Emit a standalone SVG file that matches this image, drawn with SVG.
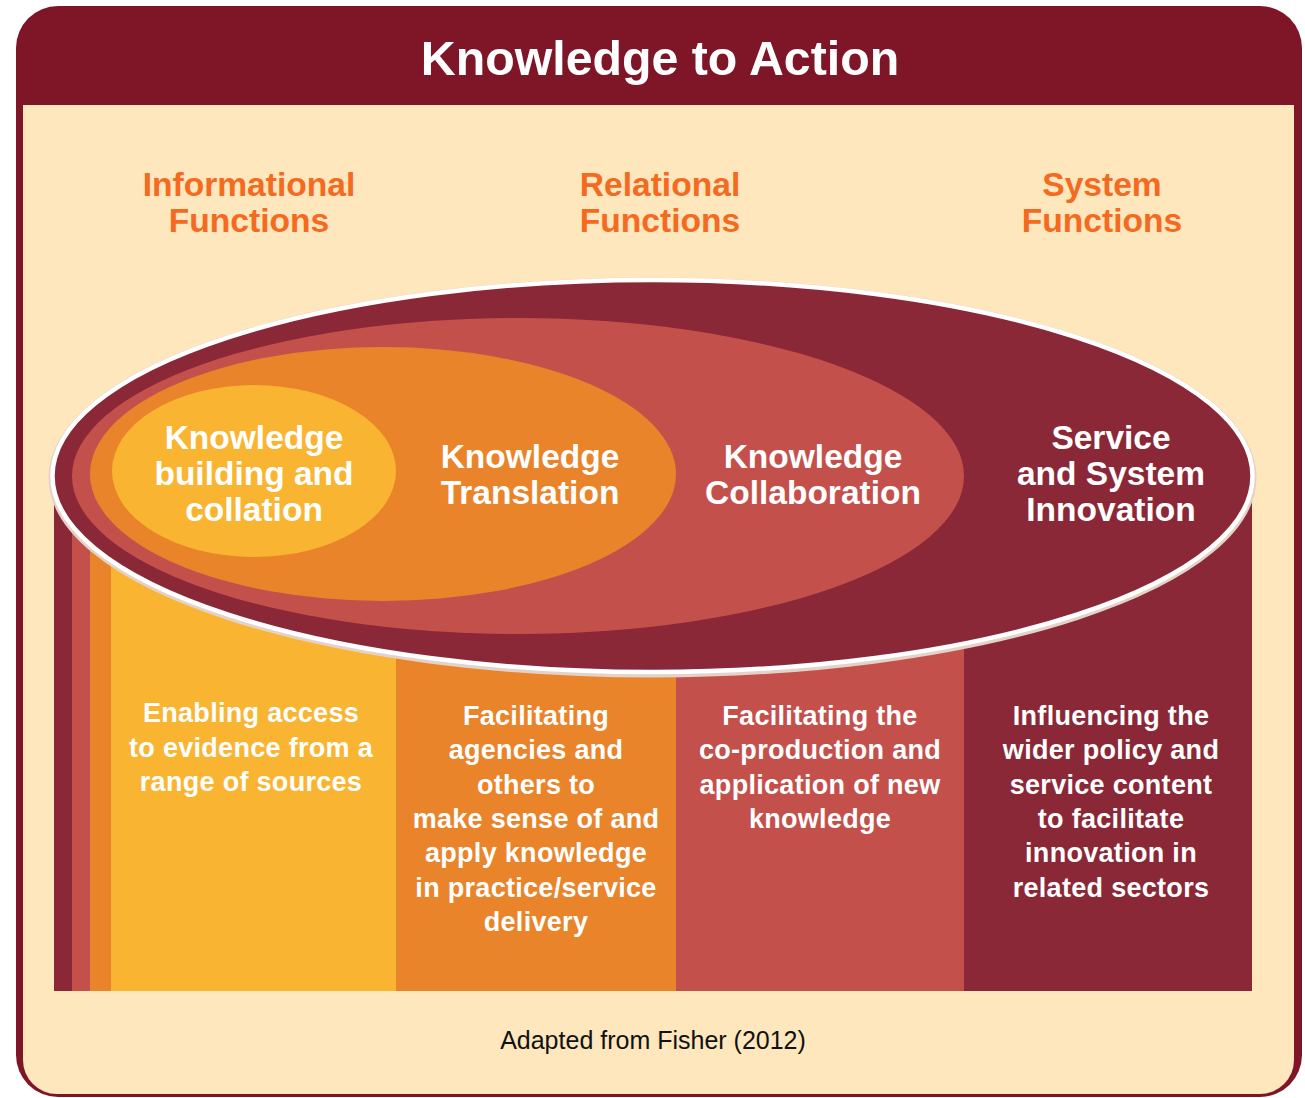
<svg xmlns="http://www.w3.org/2000/svg" width="1305" height="1098" viewBox="0 0 1305 1098">
<style>
.title{font-family:"Liberation Sans",Arial,sans-serif;font-weight:bold;font-size:48.3px;fill:#fff;text-anchor:middle}
.head{font-family:"Liberation Sans",Arial,sans-serif;font-weight:bold;font-size:33.6px;fill:#F46A20;text-anchor:middle}
.el{font-family:"Liberation Sans",Arial,sans-serif;font-weight:bold;font-size:33.5px;fill:#fff;text-anchor:middle}
.col{font-family:"Liberation Sans",Arial,sans-serif;font-weight:bold;font-size:27px;fill:#fff;text-anchor:middle;letter-spacing:0.3px}
.foot{font-family:"Liberation Sans",Arial,sans-serif;font-size:25px;fill:#111;text-anchor:middle}
</style>
<g id="frame">
<rect x="16" y="6" width="1286" height="1091" rx="42" ry="42" fill="#7F1628"/>
<path d="M23 105 H1294 V1060 A34 34 0 0 1 1260 1094 H57 A34 34 0 0 1 23 1060 Z" fill="#FEE6BD"/>
<text class="title" x="660" y="75">Knowledge to Action</text>
</g>
<g id="headings">
<text class="head" x="249" y="196">Informational</text>
<text class="head" x="249" y="232">Functions</text>
<text class="head" x="660" y="196">Relational</text>
<text class="head" x="660" y="232">Functions</text>
<text class="head" x="1102" y="196">System</text>
<text class="head" x="1102" y="232">Functions</text>
</g>
<g id="cylinder">
<rect x="54" y="476" width="1198" height="515" fill="#8B2837"/>
<rect x="72" y="476" width="892" height="515" fill="#C4504C"/>
<rect x="90" y="476" width="586" height="515" fill="#E9842A"/>
<rect x="111" y="476" width="285" height="515" fill="#F9B532"/>
<ellipse cx="652.5" cy="477.5" rx="601" ry="197" fill="none" stroke="#E4D2C8" stroke-width="6"/>
<ellipse cx="652.5" cy="476" rx="600" ry="196" fill="#8B2837" stroke="#FFFFFF" stroke-width="4.5"/>
</g>
<g id="node-service">
<text class="el" x="1111" y="449">Service</text>
<text class="el" x="1111" y="485">and System</text>
<text class="el" x="1111" y="521">Innovation</text>
</g>
<g id="node-collaboration">
<ellipse cx="518" cy="476" rx="446" ry="158" fill="#C4504C"/>
<text class="el" x="813" y="468">Knowledge</text>
<text class="el" x="813" y="504">Collaboration</text>
</g>
<g id="node-translation">
<ellipse cx="383" cy="474" rx="293" ry="127" fill="#E9842A"/>
<text class="el" x="530" y="468">Knowledge</text>
<text class="el" x="530" y="504">Translation</text>
</g>
<g id="node-building">
<ellipse cx="254" cy="471" rx="142" ry="86" fill="#F9B532"/>
<text class="el" x="254" y="449">Knowledge</text>
<text class="el" x="254" y="485">building and</text>
<text class="el" x="254" y="521">collation</text>
</g>
<g id="desc-informational">
<text class="col" x="251" y="722">Enabling access</text>
<text class="col" x="251" y="756.5">to evidence from a</text>
<text class="col" x="251" y="791">range of sources</text>
</g>
<g id="desc-relational">
<text class="col" x="536" y="725">Facilitating</text>
<text class="col" x="536" y="759.3">agencies and</text>
<text class="col" x="536" y="793.6">others to</text>
<text class="col" x="536" y="828">make sense of and</text>
<text class="col" x="536" y="862">apply knowledge</text>
<text class="col" x="536" y="896.5">in practice/service</text>
<text class="col" x="536" y="931">delivery</text>
</g>
<g id="desc-collaboration">
<text class="col" x="820" y="725">Facilitating the</text>
<text class="col" x="820" y="759.3">co-production and</text>
<text class="col" x="820" y="793.6">application of new</text>
<text class="col" x="820" y="828">knowledge</text>
</g>
<g id="desc-system">
<text class="col" x="1111" y="725">Influencing the</text>
<text class="col" x="1111" y="759.3">wider policy and</text>
<text class="col" x="1111" y="793.6">service content</text>
<text class="col" x="1111" y="828">to facilitate</text>
<text class="col" x="1111" y="862">innovation in</text>
<text class="col" x="1111" y="896.5">related sectors</text>
</g>
<g id="connectors"/>
<text class="foot" x="653" y="1049">Adapted from Fisher (2012)</text>
</svg>
